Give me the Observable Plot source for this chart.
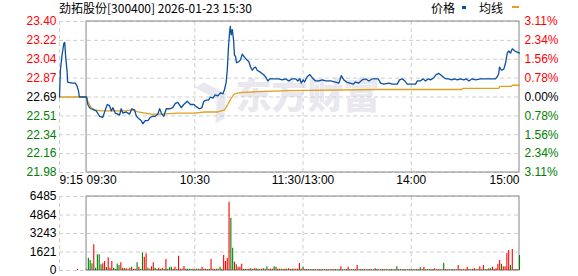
<!DOCTYPE html>
<html><head><meta charset="utf-8">
<script src="https://cdn.jsdelivr.net/npm/d3@7"></script>
<script src="https://cdn.jsdelivr.net/npm/@observablehq/plot@0.6"></script>
<style>
html,body{margin:0;padding:0;background:#fff;}
#wrap{position:relative;width:578px;height:276px;overflow:hidden;font-family:"Liberation Sans",Arial,sans-serif;}
#title{position:absolute;left:59px;top:0px;font:12px/16px "Noto Sans CJK SC",sans-serif;color:#000;white-space:nowrap;}
#legend{position:absolute;left:431px;top:0px;font:12px/16px "Noto Sans CJK SC",sans-serif;color:#000;white-space:nowrap;}
#legend span.sw{display:inline-block;vertical-align:top;}
#topc{position:absolute;left:0;top:0;}
#botc{position:absolute;left:0;top:192px;}
</style></head><body>
<div id="wrap">
<div id="topc"></div>
<div id="botc"></div>
<div id="title"></div>
<div id="legend"></div>
</div>
<script>
// ---------- data ----------
const stockTitle = "劲拓股份[300400] 2026-01-23 15:30";
const seriesNames = ["价格", "均线"];
const seriesColors = ["#0a4fa0", "#e0a020"];
const prevClose = 22.69;
const pctRange = 0.0311;
const tickSteps = [4, 3, 2, 1, 0, -1, -2, -3, -4];
const priceTickLabels = ["23.40","23.22","23.04","22.87","22.69","22.51","22.34","22.16","21.98"];
const pctTickLabels = ["3.11%","2.34%","1.56%","0.78%","0.00%","0.78%","1.56%","2.34%","3.11%"];
const timeTickMinutes = [-15, 0, 60, 120, 180, 240];
const timeTickLabels = ["9:15", "09:30", "10:30", "11:30/13:00", "14:00", "15:00"];
const gridMinutes = [-15, 60, 120, 180];
const sessionStart = 0, sessionEnd = 240, preStart = -15;
const volMax = 6485;
const volTickLabels = [6485, 4864, 3243, 1621, 0];

// price line: [minute from 9:30, price]
const priceSeries = [
[-15,22.69],[-14.5,22.94],[-13.6,23.08],[-12.6,23.19],[-12.1,23.20],[-11.6,23.07],[-10.8,22.93],[-10.5,22.83],[-8,22.82],[-6.2,22.82],[-5.2,22.79],[-4.4,22.74],[-4,22.69],[0,22.69],
[0.7,22.62],[1.7,22.59],[2.6,22.58],[4,22.57],[5.4,22.56],[7.2,22.51],[9,22.50],[10.4,22.57],[11.5,22.62],[12.7,22.61],[13.7,22.56],[14.6,22.59],[15.9,22.54],[17.4,22.53],[18.3,22.52],[19.2,22.58],[20.1,22.54],[22,22.55],[23.8,22.53],[25.1,22.58],[26.6,22.57],[27.6,22.51],[28.8,22.49],[30.3,22.47],[31.2,22.44],[32.5,22.47],[34,22.47],[35.3,22.50],[36.8,22.51],[38.1,22.51],[39.5,22.53],[40.5,22.58],[41.7,22.53],[42.8,22.51],[44.2,22.58],[46,22.58],[47.8,22.59],[49.2,22.63],[50.6,22.64],[52.5,22.59],[53.9,22.62],[55.8,22.65],[57.6,22.62],[59.5,22.62],
[60.8,22.60],[62.6,22.58],[63.9,22.59],[65,22.65],[66.4,22.66],[67.6,22.66],[68.7,22.69],[70,22.68],[71.3,22.71],[72.8,22.70],[74.3,22.73],[75.6,22.72],[76.5,22.76],[77.4,22.83],[78,22.94],[78.7,23.16],[79.3,23.30],[79.7,23.35],[80.2,23.27],[80.8,23.32],[81.5,23.22],[82,23.08],[82.6,23.07],[83.1,23.01],[84.4,23.02],[85.4,23.04],[86.3,23.09],[87.6,23.06],[88.7,23.04],[90,23.02],[90.9,22.97],[91.9,22.94],[92.7,22.96],[93.7,22.97],[94.6,22.94],[96.5,22.92],[98,22.90],[99.2,22.88],[100.5,22.84],[101.6,22.86],[102.9,22.86],[104.8,22.86],[106.6,22.86],[108.5,22.85],[110.3,22.86],[112.1,22.84],[114,22.86],[115.9,22.86],[117.1,22.84],[118.2,22.86],[119,22.82],
[120.1,22.85],[120.8,22.83],[122.3,22.88],[123.8,22.90],[125.1,22.87],[126.9,22.84],[128.8,22.84],[130.7,22.85],[132.5,22.84],[135.3,22.84],[138,22.83],[139.9,22.82],[141.2,22.89],[142.6,22.85],[144.1,22.83],[146,22.82],[147.8,22.81],[149.1,22.83],[150.9,22.82],[152.8,22.85],[154.7,22.86],[156.5,22.84],[158.4,22.86],[160.2,22.86],[161.7,22.86],[163,22.82],[164.8,22.81],[167.6,22.82],[169.5,22.81],[172.2,22.81],[173.5,22.85],[175,22.86],[176.4,22.84],[177.8,22.81],[179.6,22.81],
[182.4,22.81],[183.3,22.84],[185.1,22.84],[186.4,22.86],[187.9,22.84],[189.4,22.86],[190.7,22.85],[192.5,22.87],[193.8,22.90],[195.3,22.91],[196.8,22.89],[198.1,22.87],[199.4,22.86],[200.8,22.86],[202.3,22.85],[204.2,22.86],[205.5,22.85],[207.3,22.86],[209.1,22.85],[210.5,22.86],[211.9,22.84],[213.8,22.86],[215.6,22.85],[218.4,22.86],[220.2,22.86],[223,22.86],[224.9,22.86],[226.7,22.86],[227.7,22.88],[228.5,22.91],[228.9,22.97],[230,22.94],[231.3,22.95],[232.3,23.01],[233.2,23.10],[234.1,23.12],[235,23.10],[236,23.14],[237.4,23.12],[238.7,23.11],[240,23.10]
];

// average price line
const avgSeries = [
[-15,22.69],[0,22.69],[0.7,22.65],[2.6,22.59],[4.4,22.57],[8.1,22.56],[13.7,22.56],[21.1,22.56],[24.8,22.57],[28.5,22.55],[35.8,22.53],[41.4,22.53],[50.6,22.54],[59.9,22.54],[65.4,22.55],[72.8,22.55],[76.5,22.57],[78.3,22.62],[80.2,22.68],[82,22.72],[85,22.73],[94.6,22.74],[113,22.75],[161,22.76],[208,22.76],[208.5,22.77],[228.5,22.77],[229,22.79],[235.5,22.79],[236,22.80],[240,22.80]
];

// volume per minute (9:30 .. 15:00), plus the 9:25 auction bar
const preAuction = [[-5, 100, "r"]];
const volumes = [
60,1080,876,584,2250,200,1373,1373,500,584,
790,270,1110,200,790,200,80,580,440,680,
200,150,150,60,200,290,100,100,680,290,
80,1550,1170,1460,200,100,320,680,200,100,
200,100,200,80,960,100,250,290,100,290,
80,1250,100,100,340,100,100,100,80,100,
60,100,100,80,290,100,100,80,100,960,
100,80,100,100,290,100,1310,790,1080,5985,
4580,1950,730,500,290,290,550,100,100,80,
100,150,100,150,150,100,80,100,150,100,
330,80,100,100,320,290,100,100,100,80,
100,100,160,80,100,100,100,100,610,100,
290,80,90,70,80,60,90,70,60,80,
70,90,60,80,70,60,80,70,90,60,
80,320,70,60,80,290,70,80,60,90,
440,70,80,60,90,70,60,80,70,60,
150,80,70,60,90,70,80,60,70,80,
60,90,320,70,80,60,90,70,60,80,
70,80,60,90,70,250,80,290,60,70,
80,60,90,150,70,80,60,70,640,80,
60,90,70,80,60,70,440,80,60,90,
70,290,80,60,90,150,70,80,320,60,
440,80,70,150,150,290,80,150,550,876,
550,320,320,1490,1750,440,1840,60,80,60,1310
];
const volumeDirs = [
"rgggrggggr","rgrrrggggr","rgrrrgrrgr","ggrrggrrgg","rgrgrgggrr",
"rrgrrrgggr","gggrrgrrgr","rrgrggrrrr","ggrgrrrggr","rgrrggrrgr",
"grrrggrrgr","rgrrgrrgrr","grgrgrgrgr","grgrggrgrg","grgrgrgrgr",
"rgrgrgrgrg","rgrgrgrgrg","rggrgrgrgr","grgrggrrgr","grgrrgrggr",
"rgrgrgrrgr","grrgrrgrrg","rgrggrrrrr","grrrrgrgrrg"
].join("");

// ---------- build ----------
const upColor = "#ff0000", downColor = "#008000", flatColor = "#000000";
const gridColor = "#cfcfcf", frameColor = "#9a9a9a";
const tickVals = tickSteps.map(k => prevClose * (1 + pctRange * k / 4));
const yLo = prevClose * (1 - pctRange), yHi = prevClose * (1 + pctRange);
const ticks = tickSteps.map((k, i) => ({
  y: tickVals[i], price: priceTickLabels[i], pct: pctTickLabels[i],
  color: k > 0 ? upColor : k < 0 ? downColor : flatColor
}));
const timeTicks = timeTickMinutes.map((m, i) => ({m, label: timeTickLabels[i]}));
const priceData = priceSeries.map(([m, p]) => ({m, p}));
const avgData = avgSeries.map(([m, p]) => ({m, p}));
const volData = preAuction.map(([m, v, d]) => ({m, v, d}))
  .concat(volumes.map((v, i) => ({m: i, v, d: volumeDirs[i]})));
const volTicks = volTickLabels.map((lab, i) => ({y: volMax * (4 - i) / 4, label: String(lab)}));

const font = "Liberation Sans";
const common = {
  width: 578, marginLeft: 59, marginRight: 59,
  x: {domain: [preStart, sessionEnd], axis: null},
  color: {type: "identity"},
  style: {background: "transparent", fontFamily: font, fontSize: "12px", overflow: "visible"}
};

const topChart = Plot.plot({
  ...common,
  height: 192, marginTop: 21, marginBottom: 20,
  y: {domain: [yLo, yHi], axis: null},
  marks: [
    Plot.text(["东方财富"], {frameAnchor: "middle", dx: 18, dy: 0, text: d => d, fontSize: 36, fontWeight: 900,
      fontFamily: "Noto Sans CJK SC", fill: "#e8e8ee"}),
    Plot.text(["❯"], {frameAnchor: "middle", dx: -75, dy: 0, text: d => d, fontSize: 40, fontWeight: 900,
      fill: "#e8e8ee", rotate: -30}),
    Plot.ruleY(ticks, {y: "y", stroke: gridColor, strokeDasharray: "4,3"}),
    Plot.ruleX(gridMinutes, {x: d => d, stroke: gridColor, strokeDasharray: "4,3"}),
    Plot.rect([0], {x1: () => sessionStart, x2: () => sessionEnd, y1: () => yLo, y2: () => yHi,
      fill: "none", stroke: frameColor, strokeWidth: 1.2}),
    Plot.line(avgData, {x: "m", y: "p", stroke: seriesColors[1], strokeWidth: 1.3}),
    Plot.line(priceData, {x: "m", y: "p", stroke: seriesColors[0], strokeWidth: 1.3}),
    Plot.text(ticks, {y: "y", text: "price", fill: "color", frameAnchor: "left", textAnchor: "end", dx: -3, fontSize: 12}),
    Plot.text(ticks, {y: "y", text: "pct", fill: "color", frameAnchor: "right", textAnchor: "start", dx: 5, fontSize: 12}),
    Plot.text(timeTicks.filter(d => d.m <= sessionStart), {x: "m", text: "label", frameAnchor: "bottom", dy: 11, textAnchor: "start", fill: "#000", fontSize: 12}),
    Plot.text(timeTicks.filter(d => d.m > sessionStart && d.m < sessionEnd), {x: "m", text: "label", frameAnchor: "bottom", dy: 11, textAnchor: "middle", fill: "#000", fontSize: 12}),
    Plot.text(timeTicks.filter(d => d.m >= sessionEnd), {x: "m", text: "label", frameAnchor: "bottom", dy: 11, textAnchor: "end", fill: "#000", fontSize: 12})
  ]
});

const botChart = Plot.plot({
  ...common,
  height: 84, marginTop: 4, marginBottom: 6,
  y: {domain: [0, volMax], axis: null},
  marks: [
    Plot.ruleY(volTicks, {y: "y", stroke: gridColor, strokeDasharray: "4,3"}),
    Plot.ruleX(gridMinutes, {x: d => d, stroke: gridColor, strokeDasharray: "4,3"}),
    Plot.rect([0], {x1: () => sessionStart, x2: () => sessionEnd, y1: () => 0, y2: () => volMax,
      fill: "none", stroke: frameColor, strokeWidth: 1.2}),
    Plot.ruleX(volData, {x: "m", y1: () => 0, y2: "v", stroke: d => d.d === "r" ? upColor : downColor, strokeWidth: 1.1}),
    Plot.text(volTicks, {y: "y", text: "label", frameAnchor: "left", textAnchor: "end", dx: -3, fill: "#000", fontSize: 12})
  ]
});

document.getElementById("topc").appendChild(topChart);
document.getElementById("botc").appendChild(botChart);
document.getElementById("title").textContent = stockTitle;
const lg = document.getElementById("legend");
seriesNames.forEach((name, i) => {
  const t = document.createElement("span");
  t.textContent = name;
  lg.appendChild(t);
  const sw = document.createElement("span");
  sw.className = "sw";
  if (i === 0) { sw.style.cssText = `width:4px;height:3px;margin:6px 13px 0 7px;background:${seriesColors[i]}`; }
  else { sw.style.cssText = `width:7px;height:2px;margin:6px 0 0 9px;background:${seriesColors[i]}`; }
  lg.appendChild(sw);
});
</script>
</body></html>
